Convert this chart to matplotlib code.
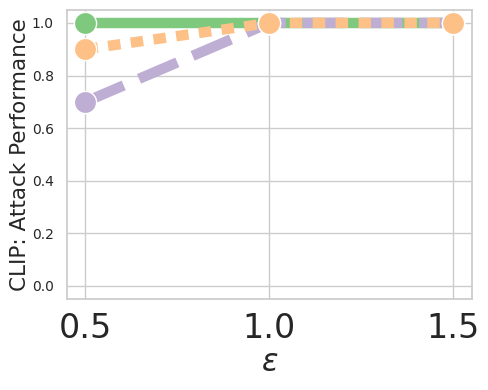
import matplotlib
matplotlib.use("Agg")
import matplotlib.pyplot as plt
import seaborn as sns

sns.set_theme(style="whitegrid")

eps = [0.5, 1.0, 1.5]
perf_solid = [1.0, 1.0, 1.0]
perf_dashed = [0.7, 1.0, 1.0]
perf_dotted = [0.9, 1.0, 1.0]

colors = ["#7fc97f", "#beaed4", "#fdc086"]

fig, ax = plt.subplots(figsize=(4.89, 3.9), dpi=100)
ax.plot(eps, perf_solid, color=colors[0], linestyle="-", linewidth=7.5,
        marker="o", markersize=16, markeredgecolor="white", markeredgewidth=1)
ax.plot(eps, perf_dashed, color=colors[1], linestyle=(0, (4, 1.6)), linewidth=7.5,
        marker="o", markersize=16, markeredgecolor="white", markeredgewidth=1)
ax.plot(eps, perf_dotted, color=colors[2], linestyle=(0, (1.2, 1)), linewidth=7.5,
        marker="o", markersize=16, markeredgecolor="white", markeredgewidth=1)

ax.set_ylim(-0.05, 1.05)
ax.set_yticks([0.0, 0.2, 0.4, 0.6, 0.8, 1.0])
ax.set_xticks([0.5, 1.0, 1.5])
ax.tick_params(axis="x", labelsize=24)
ax.tick_params(axis="y", labelsize=10)
ax.set_xlabel(r"$\epsilon$", fontsize=22, labelpad=2)
ax.set_ylabel("CLIP: Attack Performance", fontsize=15.5, labelpad=1)

fig.subplots_adjust(left=0.137, right=0.965, top=0.975, bottom=0.233)
fig.savefig("out.png", dpi=100)
